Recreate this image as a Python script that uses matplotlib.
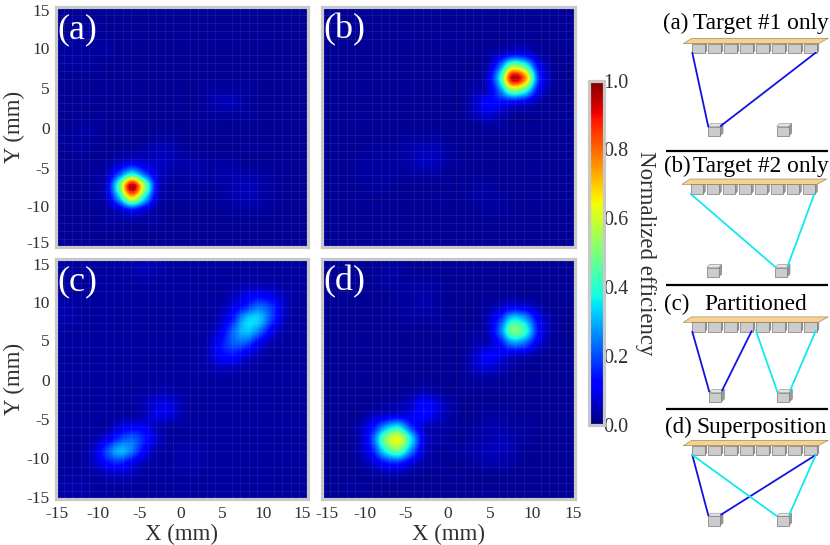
import numpy as np
import matplotlib
matplotlib.use("Agg")
import matplotlib.pyplot as plt
from matplotlib.patches import Polygon
from matplotlib.transforms import ScaledTranslation

plt.rcParams['font.family'] = ['Liberation Serif', 'DejaVu Serif']

# efficiency maps in percent, rows from y=15 down to y=-15, columns from x=-15 to x=15, 1.5 mm apart
map_a = [
    [2,2,2,2,2,2,2,2,2,2,2,2,2,2,2,2,2,2,2,2,2],
    [2,2,2,2,2,2,2,2,2,2,2,2,2,2,2,2,2,2,2,2,2],
    [2,2,3,3,2,2,2,2,2,2,2,2,2,2,2,2,2,2,2,2,2],
    [2,3,3,3,3,2,2,2,2,2,2,2,2,2,2,2,2,2,2,2,2],
    [2,3,3,3,3,2,2,2,2,2,2,2,2,2,2,2,2,2,2,2,2],
    [2,3,3,3,2,2,2,2,2,2,2,2,2,2,2,2,2,2,2,2,2],
    [2,2,2,2,2,2,2,2,2,2,2,2,2,2,2,2,2,2,2,2,2],
    [2,2,2,2,2,2,2,2,2,2,2,2,3,3,3,3,2,2,2,2,2],
    [2,2,2,2,2,2,2,2,2,2,2,2,3,5,5,3,2,2,2,2,2],
    [2,2,2,2,2,2,2,2,2,2,2,2,3,3,3,3,2,2,2,2,2],
    [2,2,3,3,2,2,2,2,2,2,2,2,2,2,2,2,2,2,2,2,2],
    [2,3,3,3,2,2,2,2,3,3,2,2,2,2,2,2,2,2,2,2,2],
    [2,2,3,2,2,2,3,4,5,5,3,2,2,2,2,2,2,2,2,2,2],
    [2,2,2,2,3,6,9,7,6,5,4,4,3,3,3,2,2,2,2,2,2],
    [2,2,2,3,5,20,38,21,8,4,3,4,3,4,4,4,3,3,2,2,2],
    [2,2,2,3,8,46,97,54,10,3,3,3,3,3,4,5,4,3,2,2,2],
    [2,2,2,3,6,31,65,36,7,3,3,3,2,3,4,5,4,3,2,2,2],
    [2,2,2,2,3,7,14,8,3,2,2,2,2,2,3,3,3,3,2,2,2],
    [2,2,2,2,3,3,3,3,3,2,2,2,2,2,2,2,2,2,2,2,2],
    [2,2,2,2,2,2,2,2,2,2,2,2,2,2,2,2,2,2,2,2,2],
    [2,2,2,2,2,2,2,2,2,2,2,2,2,2,2,2,2,2,2,2,2],
]
map_b = [
    [2,2,2,2,2,2,2,2,2,2,2,2,2,2,2,2,2,2,2,2,2],
    [2,2,2,2,2,2,2,2,2,2,2,2,2,2,2,2,2,2,2,2,2],
    [2,2,2,2,2,2,2,2,2,2,2,2,2,2,2,2,2,2,2,2,2],
    [2,2,2,2,2,2,2,2,2,2,2,2,2,2,2,3,3,2,2,2,2],
    [2,2,2,2,2,2,2,2,2,2,2,2,2,3,6,11,10,4,2,2,2],
    [2,2,2,2,2,2,2,2,2,2,2,2,2,4,22,53,43,13,3,2,2],
    [2,2,2,2,2,2,2,2,2,2,2,2,3,7,36,94,77,20,4,2,2],
    [2,2,2,2,2,2,2,2,2,2,2,2,4,6,24,53,43,13,3,2,2],
    [2,2,2,2,2,2,2,2,2,2,2,2,6,12,13,12,10,4,2,2,2],
    [2,2,2,2,2,2,2,2,2,2,2,2,5,8,5,3,2,2,2,2,2],
    [2,2,2,2,2,2,2,2,2,2,2,2,2,3,3,2,2,2,2,2,2],
    [2,2,2,2,2,2,2,3,3,3,2,2,2,2,2,2,2,2,2,2,2],
    [2,2,2,2,3,3,3,4,5,5,3,2,2,2,2,2,2,2,2,2,2],
    [2,2,2,3,3,3,3,4,6,5,3,2,2,2,2,2,2,2,2,2,2],
    [2,2,2,3,3,3,3,3,3,3,2,2,2,2,2,2,2,2,2,2,2],
    [2,2,2,2,3,3,2,2,2,2,2,2,3,3,2,2,2,2,2,2,2],
    [2,2,2,2,2,2,2,2,2,2,2,2,3,3,3,2,2,2,2,2,2],
    [2,2,2,2,2,2,2,2,2,2,2,2,2,3,3,2,2,2,2,2,2],
    [2,2,2,2,2,2,2,2,2,2,2,2,2,2,2,2,2,2,2,2,2],
    [2,2,2,2,2,2,2,2,2,2,2,2,2,2,2,2,2,2,2,2,2],
    [2,2,2,2,2,2,2,2,2,2,2,2,2,2,2,2,2,2,2,2,2],
]
map_c = [
    [3,3,3,3,3,3,4,4,4,3,3,3,3,3,3,3,3,3,3,3,3],
    [3,3,3,3,3,3,4,5,4,3,3,3,3,3,3,3,3,3,3,3,3],
    [3,3,3,3,3,3,3,3,3,3,3,3,3,3,3,4,4,4,3,3,3],
    [3,3,3,3,3,3,3,3,3,3,3,3,3,3,5,9,11,9,5,3,3],
    [4,4,3,3,3,3,3,3,3,3,3,3,3,4,9,16,23,18,7,3,3],
    [4,4,3,3,3,3,3,3,3,3,3,3,3,6,15,31,33,19,6,3,3],
    [3,3,3,3,3,3,3,3,3,3,3,3,4,9,22,32,25,11,4,3,3],
    [3,3,3,3,3,3,3,3,3,3,3,3,5,13,21,21,11,5,3,3,3],
    [3,3,3,3,3,3,3,3,3,3,3,3,5,12,14,9,5,3,3,3,3],
    [3,3,3,3,3,3,3,3,3,3,3,3,4,6,6,4,3,3,3,3,3],
    [3,3,3,3,3,3,3,3,3,3,3,3,3,3,3,3,3,3,3,3,3],
    [3,3,3,3,3,3,3,3,4,4,3,3,3,3,3,3,3,3,3,3,3],
    [3,3,3,3,3,3,3,5,8,8,4,3,3,3,3,3,3,3,3,3,3],
    [3,3,3,3,3,3,3,5,9,8,4,3,3,3,3,3,3,3,3,3,3],
    [3,3,3,3,3,8,11,10,5,3,3,3,3,3,3,3,3,3,3,3,3],
    [3,3,3,4,9,18,22,15,7,3,3,3,3,3,3,3,3,3,3,3,3],
    [3,3,3,7,19,30,24,11,4,3,4,4,3,3,3,3,3,3,3,3,3],
    [3,3,3,6,13,16,10,5,3,3,4,4,3,3,3,3,3,3,3,3,3],
    [3,3,3,3,5,6,5,3,3,3,3,3,3,3,3,3,3,3,3,3,3],
    [3,4,4,3,3,3,3,3,3,3,3,3,3,3,3,3,3,3,3,3,3],
    [3,3,3,3,3,3,3,3,3,3,3,3,3,3,3,3,3,3,3,3,3],
]
map_d = [
    [2,2,2,2,2,2,2,2,2,2,2,2,2,2,2,2,2,2,2,2,2],
    [2,2,2,2,2,3,3,2,2,2,2,2,2,2,2,2,2,2,2,2,2],
    [2,2,2,2,2,3,3,3,3,3,2,2,2,2,2,2,2,2,2,2,2],
    [2,2,2,2,2,2,3,3,4,3,2,2,2,2,2,3,2,2,2,2,2],
    [2,2,2,2,2,2,3,3,4,3,2,2,2,3,6,10,9,5,2,2,2],
    [2,2,2,2,2,2,2,3,3,3,2,2,2,5,16,35,29,11,4,2,2],
    [2,2,2,2,2,2,2,2,2,2,2,2,3,5,22,49,41,14,4,2,2],
    [2,2,2,2,2,2,2,2,2,2,2,2,4,5,13,27,23,9,3,2,2],
    [2,2,2,2,2,2,2,2,2,2,2,2,6,11,10,7,6,3,2,2,2],
    [2,2,2,2,2,2,2,2,2,2,2,2,6,8,6,3,2,2,2,2,2],
    [2,2,2,2,2,2,2,2,2,2,2,2,3,3,3,2,2,2,2,2,2],
    [2,2,2,2,2,2,2,3,4,3,2,2,2,2,2,2,2,2,2,2,2],
    [2,2,2,2,2,3,4,6,12,8,4,2,2,2,2,2,2,2,2,2,2],
    [2,2,2,2,5,7,9,9,13,8,4,2,2,3,3,3,2,2,2,2,2],
    [2,2,2,5,13,28,36,18,7,4,3,2,3,4,4,3,3,2,2,2,2],
    [2,2,2,5,20,50,63,36,9,4,3,2,3,4,5,4,3,2,2,2,2],
    [2,2,2,5,15,37,47,26,7,3,3,3,4,5,5,4,2,2,2,2,2],
    [2,2,2,3,7,14,16,9,4,3,2,2,3,4,4,3,2,2,2,2,2],
    [2,2,2,2,3,4,4,3,2,2,2,2,2,2,2,2,2,2,2,2,2],
    [2,2,3,3,2,2,2,2,2,2,2,2,2,2,2,2,2,2,2,2,2],
    [2,2,2,2,2,2,2,2,2,2,2,2,2,2,2,2,2,2,2,2,2],
]

axis_ticks = [-15, -10, -5, 0, 5, 10, 15]
axis_labels = ['-15', '-10', '-5', '0', '5', '10', '15']
cbar_ticks = [0.0, 0.2, 0.4, 0.6, 0.8, 1.0]
panel_names = ['(a)', '(b)', '(c)', '(d)']

# tick labels in the original are nudged by hand, pixels right / pixels down
xlabel_nudge_c = [1.5, 0.5, 0.5, -0.5, -1.5, -2, -5.5]
xlabel_nudge_d = [5.5, 1.5, 0, 0, 0, 0, -1]
ylabel_nudge_a = [-4, 0, 1, 1, 1, 2, 3]
ylabel_nudge_c = [-1.5, 0, 0.5, 1.5, 1.5, 3, 6]

scheme_titles = ['Target #1 only', 'Target #2 only', 'Partitioned', 'Superposition']
scheme_title_x = [693, 693, 704, 696]
scheme_title_y = [23, 166.5, 304, 427]
scheme_tag_x = [663, 664, 664, 665]
scheme_plate_y = [43.7, 184.4, 322.3, 445.7]
scheme_target_y = [136, 277, 402, 525.7]
scheme_x_shift = [0, -1.5, 0, 0]
separator_y = [151, 285.3, 409.3]

BLUE = '#1212e0'
CYAN = '#10e8f0'
# (start x, start y, end x, end y, colour) read from the sketches on the right
scheme_links = [
    [(692.3, 52.7, 708.3, 126.7, BLUE), (815.7, 52.7, 720.7, 126, BLUE)],
    [(690.7, 194, 775, 266.7, CYAN), (814.3, 194, 787.7, 266, CYAN)],
    [(692.3, 331.7, 709.3, 391.7, BLUE), (751.7, 331, 722, 390.7, BLUE),
     (756, 331, 777.3, 391.7, CYAN), (815.7, 331, 790, 390.7, CYAN)],
    [(692.3, 455, 708.3, 515.3, BLUE), (815.7, 455, 721, 514.7, BLUE),
     (692.3, 455, 776.7, 516, CYAN), (815.7, 455, 789.3, 514.7, CYAN)],
]
scheme_targets = [[708, 776.7], [706.7, 775], [709.3, 777.3], [708, 776.7]]

GREY = '#c8c8c8'
TEXT = '#303030'
W, H = 830, 545

fig = plt.figure(figsize=(W / 100, H / 100), dpi=100)


def px_axes(left, top, right, bottom):
    return fig.add_axes([left / W, 1 - bottom / H, (right - left) / W, (bottom - top) / H])


def draw_map(box, values, name, x_nudge, y_nudge):
    ax = px_axes(*box)
    im = ax.imshow(np.array(values) / 100, cmap='jet', vmin=0, vmax=1, origin='upper',
                   extent=(-15.75, 15.75, -15.75, 15.75), interpolation='catrom', aspect='auto')
    ax.set_xlim(-15, 15)
    ax.set_ylim(-15, 15)
    # faint mesh that runs over the maps
    ax.set_xticks(np.arange(-15, 16, 1), minor=True)
    ax.set_yticks(np.arange(-15, 16, 1), minor=True)
    ax.grid(which='minor', color='white', alpha=0.09, lw=0.6)
    ax.tick_params(which='both', length=0)
    ax.set_xticks(axis_ticks)
    ax.set_yticks(axis_ticks)
    ax.set_xticklabels(axis_labels if x_nudge else [], fontsize=12.5, color=TEXT)
    ax.set_yticklabels(axis_labels if y_nudge else [], fontsize=12.5, color=TEXT)
    ax.tick_params(axis='x', pad=5.5)
    ax.tick_params(axis='y', pad=4)
    if x_nudge:
        ax.set_xlabel('X (mm)', fontsize=16.5, color=TEXT, labelpad=1.5)
        for label, dx in zip(ax.get_xticklabels(), x_nudge):
            label.set_transform(label.get_transform() + ScaledTranslation(dx / 100, 0, fig.dpi_scale_trans))
    if y_nudge:
        ax.set_ylabel('Y (mm)', fontsize=16.5, color=TEXT, labelpad=1.5)
        for label, dy in zip(ax.get_yticklabels(), y_nudge):
            label.set_transform(label.get_transform() + ScaledTranslation(0, -dy / 100, fig.dpi_scale_trans))
    for spine in ax.spines.values():
        spine.set_color(GREY)
        spine.set_linewidth(2.3)
    ax.text(0.008, 0.972, name, transform=ax.transAxes, color='white', fontsize=26, va='top', ha='left')
    return im


im = draw_map((55.5, 6.5, 307.5, 246.5), map_a, panel_names[0], None, ylabel_nudge_a)
draw_map((321.5, 6.5, 574.5, 246.5), map_b, panel_names[1], None, None)
draw_map((55.5, 258.5, 307.5, 498.5), map_c, panel_names[2], xlabel_nudge_c, ylabel_nudge_c)
draw_map((321.5, 258.5, 574.5, 498.5), map_d, panel_names[3], xlabel_nudge_d, None)

cax = px_axes(588.5, 80.5, 603.5, 424.5)
cbar = fig.colorbar(im, cax=cax)
cbar.set_ticks(cbar_ticks)
cbar.set_ticklabels(['%.1f' % t for t in cbar_ticks])
cbar.ax.tick_params(length=0, labelsize=14.5, labelcolor=TEXT, pad=0)
cbar.outline.set_edgecolor(GREY)
cbar.outline.set_linewidth(2.3)
fig.text(645 / W, 1 - 253 / H, 'Normalized efficiency', rotation=270, fontsize=16.5, color=TEXT,
         ha='center', va='center')

# sketches on the right, drawn in pixel coordinates
sk = fig.add_axes([0, 0, 1, 1], facecolor='none')
sk.set_xlim(0, W)
sk.set_ylim(H, 0)
sk.axis('off')


def cube(x, bottom, w, h, d, z=3):
    sk.add_patch(Polygon([(x + w, bottom), (x + w + d, bottom - d), (x + w + d, bottom - h - d), (x + w, bottom - h)],
                         fc='#9a9a9a', ec='#777777', lw=0.4, zorder=z))
    sk.add_patch(Polygon([(x, bottom - h), (x + w, bottom - h), (x + w + d, bottom - h - d), (x + d, bottom - h - d)],
                         fc='#e4e4e4', ec='#888888', lw=0.4, zorder=z))
    sk.add_patch(Polygon([(x, bottom), (x + w, bottom), (x + w, bottom - h), (x, bottom - h)],
                         fc='#cccccc', ec='#777777', lw=0.5, zorder=z))


for i in range(4):
    shift = scheme_x_shift[i]
    plate = scheme_plate_y[i]
    sk.text(scheme_tag_x[i], scheme_title_y[i], panel_names[i], fontsize=16.5, color='black', ha='left', va='center')
    sk.text(scheme_title_x[i], scheme_title_y[i], scheme_titles[i], fontsize=16.8, color='black', ha='left', va='center')
    for k in range(8):
        cube(692.3 + shift + 16 * k, plate + 9.3, 12.5, 9.3, 2, z=2)
    sk.add_patch(Polygon([(683.3 + shift, plate), (691.7 + shift, plate - 5.4),
                          (828.3 + shift, plate - 5.4), (818.3 + shift, plate)],
                         fc='#f6d28e', ec='#8a7a55', lw=0.4, zorder=3))
    for tx in scheme_targets[i]:
        cube(tx, scheme_target_y[i], 12, 9.5, 3, z=4)
    for x0, y0, x1, y1, colour in scheme_links[i]:
        sk.plot([x0, x1], [y0, y1], color=colour, lw=1.3, zorder=5, solid_capstyle='round')

for y in separator_y:
    sk.plot([665.5, 827.7], [y, y], color='black', lw=1.6, solid_capstyle='butt')

fig.savefig('out.png', dpi=100)
